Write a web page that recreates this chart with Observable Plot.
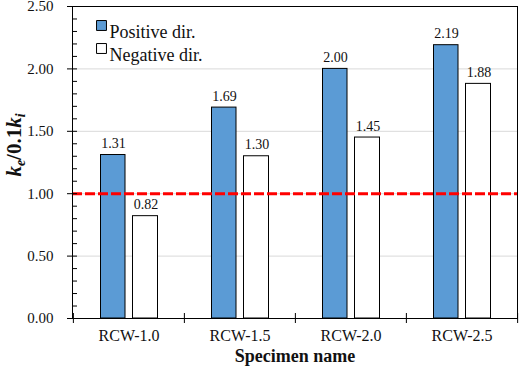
<!DOCTYPE html>
<html>
<head>
<meta charset="utf-8">
<script src="https://cdn.jsdelivr.net/npm/d3@7"></script>
<script src="https://cdn.jsdelivr.net/npm/@observablehq/plot@0.6"></script>
<style>
  html, body { margin: 0; padding: 0; background: #fff; }
  #chart svg { display: block; }
  #chart svg text { font-family: 'Liberation Serif', 'Times New Roman', serif; }
</style>
</head>
<body>
<div id="chart"></div>
<script>
const categories = ["RCW-1.0", "RCW-1.5", "RCW-2.0", "RCW-2.5"];
const positive = [1.31, 1.69, 2.00, 2.19];
const negative = [0.82, 1.30, 1.45, 1.88];
const seriesNames = ["Positive dir.", "Negative dir."];
const yMajorTicks = [0, 0.5, 1.0, 1.5, 2.0, 2.5];
const yGridTicks = [0.5, 1.0, 1.5, 2.0];
const yMinorTicks = [0, 0.1, 0.2, 0.3, 0.4, 0.5, 0.6, 0.7, 0.8, 0.9, 1.0, 1.1, 1.2, 1.3, 1.4, 1.5, 1.6, 1.7, 1.8, 1.9, 2.0, 2.1, 2.2, 2.3, 2.4];
const threshold = 1.0;
const xTitle = "Specimen name";

const rows = categories.map((c, i) => ({category: c, positive: positive[i], negative: negative[i]}));

const W = 519, H = 371;
const mL = 72, mR = 2, mT = 6, mB = 53;
const bw = (W - mL - mR) / categories.length;
const font = "'Liberation Serif', 'Times New Roman', serif";
const blue = "#5b9bd5";

const chart = Plot.plot({
  width: W,
  height: H,
  marginLeft: mL,
  marginRight: mR,
  marginTop: mT,
  marginBottom: mB,
  style: {fontFamily: font, background: "#fff", color: "#000", overflow: "visible"},
  x: {domain: categories, padding: 0, axis: null},
  y: {domain: [0, 2.5], axis: null},
  marks: [
    Plot.ruleY(yGridTicks, {stroke: "#d9d9d9", strokeWidth: 1}),
    Plot.barY(rows, {x: "category", y: "positive", fill: blue, stroke: "#000", strokeWidth: 1, insetLeft: 27.5, insetRight: 59}),
    Plot.barY(rows, {x: "category", y: "negative", fill: "#fff", stroke: "#000", strokeWidth: 1, insetLeft: 59.5, insetRight: 26.5}),
    Plot.text(rows, {x: "category", y: "positive", text: d => d.positive.toFixed(2), dx: -15.5, dy: -7, lineAnchor: "bottom", fontSize: 14, fill: "#111"}),
    Plot.text(rows, {x: "category", y: "negative", text: d => d.negative.toFixed(2), dx: 17, dy: -7, lineAnchor: "bottom", fontSize: 14, fill: "#111"}),
    Plot.ruleY([threshold], {stroke: "#ff0000", strokeWidth: 3, strokeDasharray: "10,3"}),
    Plot.frame({stroke: "#000", strokeWidth: 1}),
    Plot.tickY(yMinorTicks, {y: d => d, insetRight: W - mL - mR - 5, stroke: "#000", strokeWidth: 1}),
    Plot.axisY({ticks: yMajorTicks, tickFormat: d3.format(".2f"), tickSize: 5, tickPadding: 14, fontSize: 15, label: null, stroke: "#000", fill: "#111"}),
    Plot.axisX({tickSize: 0, tickPadding: 11, fontSize: 16, label: null, fill: "#111"}),
    Plot.ruleX(categories, {x: d => d, y1: 0, y2: 0, insetTop: 5, insetBottom: 5, dx: -bw / 2, stroke: "#000"}),
    Plot.ruleX([categories[categories.length - 1]], {x: d => d, y1: 0, y2: 0, insetTop: 5, insetBottom: 5, dx: bw / 2, stroke: "#000"}),
    Plot.text([xTitle], {frameAnchor: "bottom", text: d => d, dy: 43, fontWeight: "bold", fontSize: 18, fill: "#111"}),
    // legend
    Plot.dot([seriesNames[0]], {frameAnchor: "top-left", dx: 29, dy: 19, symbol: "square", r: 5.6, fill: blue, stroke: "#000", strokeWidth: 1}),
    Plot.dot([seriesNames[1]], {frameAnchor: "top-left", dx: 29, dy: 42, symbol: "square", r: 5.6, fill: "#fff", stroke: "#000", strokeWidth: 1}),
    Plot.text([seriesNames[0]], {frameAnchor: "top-left", text: d => d, dx: 37, dy: 19, textAnchor: "start", fontSize: 18, fill: "#111"}),
    Plot.text([seriesNames[1]], {frameAnchor: "top-left", text: d => d, dx: 37, dy: 42, textAnchor: "start", fontSize: 18, fill: "#111"})
  ]
});

// Y-axis title with subscripts
const svg = d3.select(chart);
const yt = svg.append("text")
  .attr("transform", `translate(21, ${145}) rotate(-90)`)
  .attr("text-anchor", "middle")
  .attr("font-family", font)
  .attr("font-size", 21)
  .attr("font-weight", "bold")
  .attr("fill", "#111");
yt.append("tspan").attr("font-style", "italic").text("k");
yt.append("tspan").attr("font-style", "italic").attr("font-size", 14).attr("dy", 4).text("e");
yt.append("tspan").attr("dy", -4).text("/0.1");
yt.append("tspan").attr("font-style", "italic").text("k");
yt.append("tspan").attr("font-style", "italic").attr("font-size", 14).attr("dy", 4).text("i");

document.getElementById("chart").append(chart);
</script>
</body>
</html>
